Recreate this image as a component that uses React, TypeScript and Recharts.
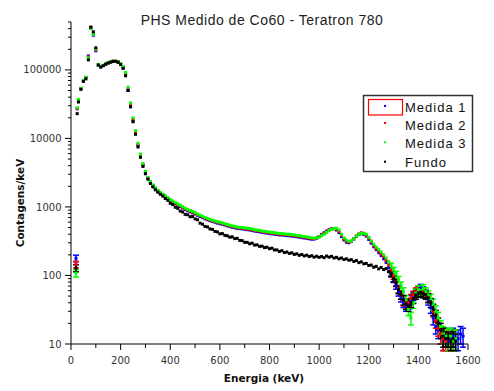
import React from 'react';
import { ScatterChart, Scatter, XAxis, YAxis, ErrorBar } from 'recharts';

// energia (keV) de cada canal lido
const energia = [
  20, 25, 30, 40, 50, 60, 70, 80, 90, 100,
  110, 120, 130, 140, 150, 160, 170, 180, 190, 200,
  210, 220, 230, 240, 250, 260, 270, 280, 290, 300,
  310, 320, 330, 340, 350, 360, 370, 380, 390, 400,
  410, 420, 430, 440, 450, 460, 470, 480, 490, 500,
  510, 520, 530, 540, 550, 560, 570, 580, 590, 600,
  610, 620, 630, 640, 650, 660, 670, 680, 690, 700,
  710, 720, 730, 740, 750, 760, 770, 780, 790, 800,
  810, 820, 830, 840, 850, 860, 870, 880, 890, 900,
  910, 920, 930, 940, 950, 960, 970, 980, 990, 1000,
  1010, 1020, 1030, 1040, 1050, 1060, 1070, 1080, 1090, 1100,
  1110, 1120, 1130, 1140, 1150, 1160, 1170, 1180, 1190, 1200,
  1210, 1220, 1230, 1240, 1250, 1260, 1270, 1280, 1290, 1300,
  1310, 1320, 1330, 1340, 1350, 1360, 1370, 1380, 1390, 1400,
  1410, 1420, 1430, 1440, 1450, 1460, 1470, 1480, 1490, 1500,
  1510, 1520, 1530, 1540, 1550, 1560, 1570, 1580,
];

const medida1 = [
  178, 27000, 36000, 53000, 69000, 77000, 160000, 410000, 320000, 190000,
  118000, 111000, 116000, 122000, 127000, 131000, 133000, 133000, 130000, 122000,
  108000, 86000, 50000, 29000, 18000, 11800, 7900, 5500, 4050, 3150,
  2600, 2270, 2030, 1840, 1700, 1590, 1500, 1410, 1330, 1250,
  1160, 1110, 1060, 1010, 965, 915, 880, 850, 820, 790,
  755, 725, 700, 670, 650, 630, 612, 598, 582, 570,
  560, 545, 530, 518, 505, 497, 487, 482, 478, 472,
  466, 462, 452, 444, 438, 433, 425, 420, 414, 410,
  405, 400, 396, 390, 390, 386, 381, 380, 376, 372,
  367, 362, 357, 352, 348, 343, 338, 340, 350, 370,
  395, 420, 445, 465, 480, 480, 460, 420, 370, 330,
  305, 300, 315, 340, 370, 395, 405, 398, 375, 335,
  295, 262, 238, 215, 195, 175, 155, 130, 108, 88,
  72, 58, 48, 40, 36, 38, 44, 50, 56, 62,
  66, 60, 54, 44, 34, 24, 18, 16, 14, 12,
  13, 11, 12, 13, 12, 12, 14, 13,
];

const medida2 = [
  145, 27500, 36500, 53500, 69500, 77500, 155000, 420000, 340000, 195000,
  119000, 112000, 116000, 122000, 127000, 131000, 134000, 134000, 130000, 123000,
  110000, 89000, 53000, 31000, 19000, 12300, 8200, 5700, 4150, 3200,
  2650, 2300, 2060, 1870, 1720, 1610, 1520, 1430, 1345, 1265,
  1195, 1135, 1085, 1035, 985, 940, 900, 870, 840, 810,
  775, 745, 715, 685, 665, 645, 625, 612, 598, 585,
  572, 558, 542, 530, 518, 508, 499, 494, 489, 484,
  478, 474, 464, 455, 450, 445, 436, 430, 425, 420,
  415, 410, 406, 400, 400, 396, 391, 390, 386, 381,
  376, 372, 366, 361, 356, 352, 346, 345, 352, 368,
  388, 410, 435, 458, 475, 482, 470, 440, 385, 342,
  318, 308, 318, 345, 378, 405, 420, 412, 385, 350,
  308, 272, 248, 226, 205, 186, 165, 142, 120, 98,
  80, 64, 52, 43, 38, 40, 46, 52, 58, 62,
  60, 58, 52, 48, 40, 30, 22, 17, 14, 12,
  11, 12, 11, 12, null, null, null, null,
];

const medida3 = [
  108, 28000, 37000, 54000, 70000, 78000, 150000, 400000, 330000, 200000,
  120000, 112000, 117000, 123000, 128000, 132000, 134000, 134000, 131000, 124000,
  112000, 92000, 56000, 33000, 20000, 13000, 8500, 5900, 4300, 3300,
  2700, 2350, 2100, 1900, 1750, 1630, 1540, 1450, 1360, 1280,
  1220, 1160, 1110, 1060, 1010, 960, 920, 890, 860, 830,
  790, 760, 730, 700, 680, 660, 640, 625, 610, 600,
  585, 570, 555, 540, 530, 520, 510, 505, 500, 495,
  490, 485, 475, 465, 460, 455, 445, 440, 435, 430,
  425, 420, 415, 410, 410, 405, 400, 400, 395, 390,
  385, 380, 375, 370, 365, 360, 355, 350, 355, 365,
  380, 400, 425, 450, 470, 485, 490, 460, 400, 355,
  330, 315, 320, 345, 375, 400, 410, 410, 400, 360,
  320, 285, 260, 240, 220, 200, 180, 160, 140, 120,
  105, 88, 72, 58, 44, 32, 24, 40, 55, 62,
  60, 64, 58, 52, 46, 38, 30, 24, 18, 14,
  13, 12, 13, 11, 12, null, null, null,
];

const fundo = [
  128, 23000, 34000, 52000, 68000, 74000, 140000, 420000, 360000, 210000,
  118000, 110000, 115000, 121000, 126000, 130000, 133000, 133000, 129000, 120000,
  105000, 82000, 50000, 29000, 17500, 11500, 7500, 5300, 3900, 3050,
  2550, 2200, 1960, 1780, 1640, 1530, 1440, 1330, 1250, 1130,
  1085, 990, 955, 870, 845, 780, 770, 720, 725, 670,
  650, 580, 560, 520, 512, 478, 470, 440, 432, 405,
  408, 385, 380, 362, 366, 345, 348, 325, 322, 305,
  304, 290, 296, 278, 280, 266, 268, 255, 258, 246,
  250, 236, 236, 224, 230, 216, 220, 210, 214, 203,
  207, 197, 202, 193, 198, 189, 194, 185, 191, 184,
  189, 182, 192, 185, 190, 180, 184, 175, 180, 171,
  175, 167, 170, 160, 165, 154, 158, 148, 150, 140,
  142, 132, 136, 125, 131, 122, 126, 114, 105, 90,
  78, 62, 52, 44, 38, 36, 40, 46, 52, 55,
  57, 54, 52, 47, 40, 32, 26, 20, 16, 13,
  12, 12, 11, 12, 11, null, null, null,
];

// barras de erro: primeiro canal (20 keV) e cauda a partir de 1290 keV
const erroPrimeiro = [20, 16, 13, 15];
const inicioCauda = 1290;
const erroCauda1 = [10, 9, 9, 8, 7, 6, 6, 6, 7, 7, 8, 8, 8, 8, 7, 7, 6, 5, 4, 4, 4, 4, 4, 3, 4, 4, 4, 4, 4, 4];
const erroCauda2 = [11, 10, 9, 8, 7, 7, 6, 6, 7, 7, 8, 8, 8, 8, 7, 7, 6, 5, 5, 4, 4, 4, 3, 4, 3, 4, 0, 0, 0, 0];
const erroCauda3 = [12, 11, 10, 9, 8, 8, 7, 6, 5, 7, 8, 9, 9, 9, 8, 8, 7, 7, 6, 5, 4, 4, 4, 4, 4, 3, 4, 0, 0, 0];
const erroCaudaF = [10, 9, 9, 8, 7, 7, 6, 6, 6, 7, 7, 7, 8, 7, 7, 7, 6, 6, 5, 4, 4, 4, 3, 3, 3, 3, 3, 0, 0, 0];

const ticksX = [0, 100, 200, 300, 400, 500, 600, 700, 800, 900, 1000, 1100, 1200, 1300, 1400, 1500, 1600];
const rotulosX = [0, 200, 400, 600, 800, 1000, 1200, 1400, 1600];
const ticksY = [
  10, 20, 30, 40, 50, 60, 70, 80, 90,
  100, 200, 300, 400, 500, 600, 700, 800, 900,
  1000, 2000, 3000, 4000, 5000, 6000, 7000, 8000, 9000,
  10000, 20000, 30000, 40000, 50000, 60000, 70000, 80000, 90000,
  100000, 200000, 300000, 400000, 500000,
];
const rotulosY = [10, 100, 1000, 10000, 100000];

const series = [
  { nome: 'Medida 1', cor: '#0000ff', valores: medida1, cauda: erroCauda1, erro0: erroPrimeiro[0] },
  { nome: 'Medida 2', cor: '#ff0000', valores: medida2, cauda: erroCauda2, erro0: erroPrimeiro[1] },
  { nome: 'Medida 3', cor: '#00ff00', valores: medida3, cauda: erroCauda3, erro0: erroPrimeiro[2] },
  { nome: 'Fundo', cor: '#000000', valores: fundo, cauda: erroCaudaF, erro0: erroPrimeiro[3] },
];

const idxCauda = energia.indexOf(inicioCauda);

const montar = (valores: (number | null)[], cauda: number[], erro0: number) =>
  energia
    .map((e, i) => ({
      e,
      v: valores[i],
      err: i === 0 ? erro0 : i >= idxCauda ? cauda[i - idxCauda] ?? 0 : 0,
    }))
    .filter((p) => p.v != null);

const EIXO_X = 71;
const EIXO_Y = 344;
const fonteEixo = '"DejaVu Sans", Verdana, sans-serif';

const TickY = (props: any) => {
  const { y, payload } = props;
  const major = rotulosY.includes(payload.value);
  return (
    <g>
      <line x1={EIXO_X - (major ? 6 : 3)} x2={EIXO_X} y1={y} y2={y} stroke="#000" strokeWidth={1} />
      {major && (
        <text x={61.5} y={y} dy={3.6} textAnchor="end" fontSize={10} fontFamily={fonteEixo} fill="#333">
          {payload.value}
        </text>
      )}
    </g>
  );
};

const TickX = (props: any) => {
  const { x, payload } = props;
  const major = rotulosX.includes(payload.value);
  return (
    <g>
      <line x1={x} x2={x} y1={EIXO_Y} y2={EIXO_Y + (major ? 6 : 4)} stroke="#000" strokeWidth={1} />
      {major && (
        <text x={x} y={EIXO_Y + 19.5} textAnchor="middle" fontSize={10} fontFamily={fonteEixo} fill="#333">
          {payload.value}
        </text>
      )}
    </g>
  );
};

const linhasLegenda = [
  { marca: 106, base: 111.7 },
  { marca: 123, base: 129.5 },
  { marca: 142.3, base: 148.3 },
  { marca: 161.7, base: 167.3 },
];

const App = () => {
  return (
    <div style={{ position: 'absolute', left: 0, top: 0, width: 494, height: 391, background: '#fff' }}>
      <ScatterChart width={494} height={391} margin={{ top: 22, right: 26, bottom: 0, left: 0 }}>
        <XAxis
          type="number"
          dataKey="e"
          domain={[0, 1600]}
          ticks={ticksX}
          interval={0}
          tick={<TickX />}
          tickLine={false}
          axisLine={{ stroke: '#000', strokeWidth: 1 }}
          height={47}
          allowDataOverflow
        />
        <YAxis
          type="number"
          dataKey="v"
          scale="log"
          domain={[10, 500000]}
          ticks={ticksY}
          interval={0}
          tick={<TickY />}
          tickLine={false}
          axisLine={{ stroke: '#000', strokeWidth: 1 }}
          width={71}
          allowDataOverflow
        />
        {series.map((s) => (
          <Scatter
            key={s.nome}
            name={s.nome}
            data={montar(s.valores, s.cauda, s.erro0)}
            isAnimationActive={false}
            shape={(p: any) => <rect x={p.cx - 1.5} y={p.cy - 1.5} width={3} height={3} fill={s.cor} />}
          >
            <ErrorBar dataKey="err" direction="y" width={3} stroke={s.cor} strokeWidth={1.5} isAnimationActive={false} />
          </Scatter>
        ))}
      </ScatterChart>

      <svg width={494} height={391} style={{ position: 'absolute', left: 0, top: 0, pointerEvents: 'none' }}>
        <text x={262} y={25} textAnchor="middle" fontSize={14} letterSpacing={0.5} fontFamily='"Liberation Sans", Arial, sans-serif' fill="#222">
          PHS Medido de Co60 - Teratron 780
        </text>
        <text x={264} y={381.5} textAnchor="middle" fontSize={10.5} fontWeight="bold" fontFamily={fonteEixo} fill="#111">
          Energia (keV)
        </text>
        <text x={23.5} y={203} transform="rotate(-90 23.5 203)" textAnchor="middle" fontSize={10.5} fontWeight="bold" fontFamily={fonteEixo} fill="#111">
          Contagens/keV
        </text>

        <rect x={363.5} y={95.5} width={109} height={76} fill="#fff" stroke="#333" strokeWidth={1.5} />
        <rect x={368.5} y={99.5} width={34} height={15.5} fill="none" stroke="#ff0000" strokeWidth={1.2} />
        {series.map((s, i) => (
          <g key={s.nome}>
            <rect x={384} y={linhasLegenda[i].marca - 1} width={2} height={2} fill={s.cor} />
            <text x={405} y={linhasLegenda[i].base} fontSize={13} letterSpacing={1} fontFamily='"Liberation Sans", Arial, sans-serif' fill="#111">
              {s.nome}
            </text>
          </g>
        ))}
      </svg>
    </div>
  );
};

export default App;
